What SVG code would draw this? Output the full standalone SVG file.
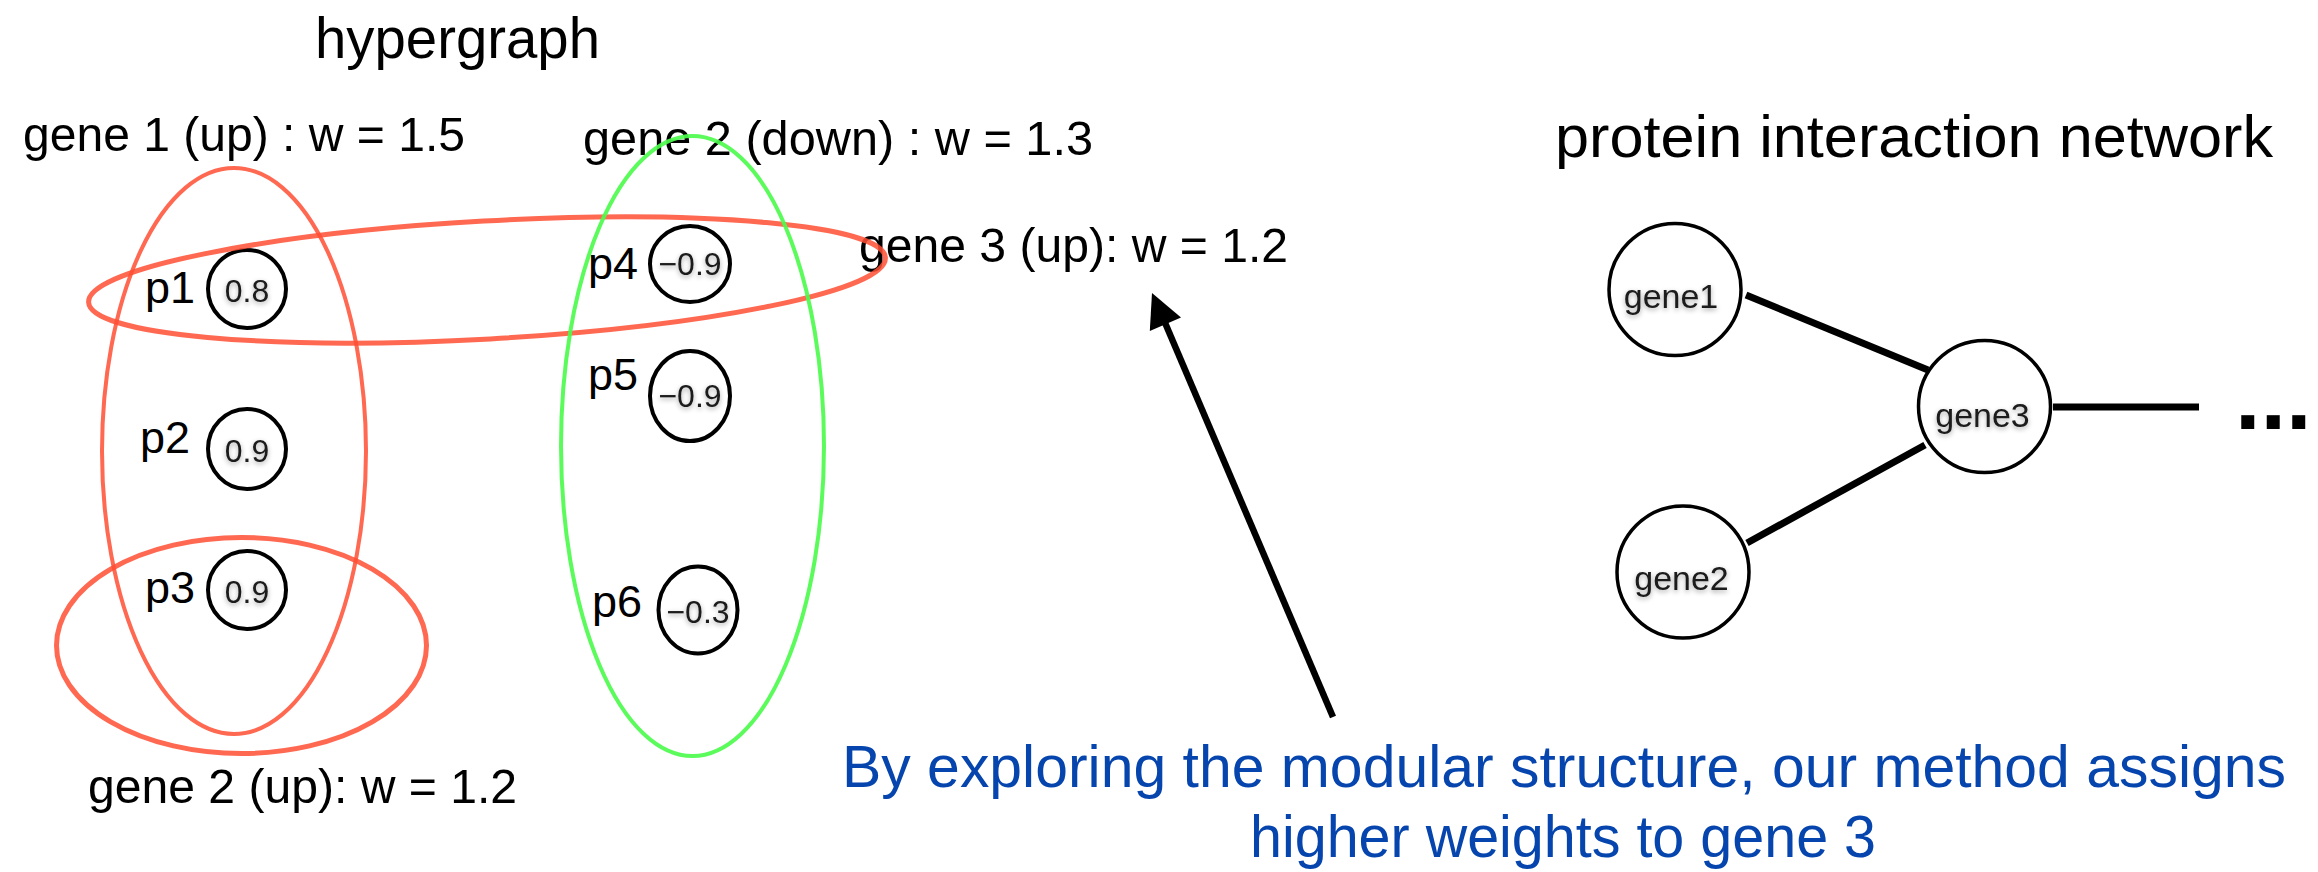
<svg xmlns="http://www.w3.org/2000/svg" width="2318" height="872" viewBox="0 0 2318 872">
<style>
  text { font-family: "Liberation Sans", Arial, sans-serif; fill: #000; }
  .title { font-size: 57px; }
  .lbl { font-size: 48px; }
  .p { font-size: 45px; }
  .val { font-size: 32px; text-anchor: middle; fill: #1a1a1a; filter: url(#sh); }
  .gn { font-size: 34px; text-anchor: middle; fill: #1a1a1a; filter: url(#sh); }
  .cap { font-size: 59px; text-anchor: middle; fill: #0645AD; }
  .pc { fill: #fff; stroke: #000; stroke-width: 4; }
  .nc { fill: #fff; stroke: #000; stroke-width: 3.5; }
  .red { fill: none; stroke: #FF4E33; stroke-opacity: 0.85; }
  .green { fill: none; stroke: #4DFB4D; stroke-opacity: 0.92; stroke-width: 4; }
  .edge { stroke: #000; stroke-width: 7; fill: none; }
</style>
<defs>
  <filter id="sh" x="-30%" y="-40%" width="160%" height="180%">
    <feGaussianBlur in="SourceAlpha" stdDeviation="2.5"/>
    <feOffset dy="2" result="b"/>
    <feFlood flood-color="#000" flood-opacity="0.35"/>
    <feComposite in2="b" operator="in"/>
    <feMerge><feMergeNode/><feMergeNode in="SourceGraphic"/></feMerge>
  </filter>
</defs>
<rect width="2318" height="872" fill="#fff"/>

<g id="title-hypergraph"><text class="title" x="315" y="58" textLength="285" lengthAdjust="spacingAndGlyphs">hypergraph</text></g>
<g id="title-network"><text class="title" x="1555" y="157" style="font-size:60px" textLength="718" lengthAdjust="spacingAndGlyphs">protein interaction network</text></g>

<!-- hyperedge labels -->
<g id="label-gene1-up"><text class="lbl" x="23" y="151" textLength="442" lengthAdjust="spacingAndGlyphs">gene 1 (up) : w = 1.5</text></g>
<g id="label-gene2-down"><text class="lbl" x="583" y="155" textLength="510" lengthAdjust="spacingAndGlyphs">gene 2 (down) : w = 1.3</text></g>
<g id="label-gene3-up"><text class="lbl" x="859" y="262" textLength="429" lengthAdjust="spacingAndGlyphs">gene 3 (up): w = 1.2</text></g>
<g id="label-gene2-up"><text class="lbl" x="88" y="803" textLength="429" lengthAdjust="spacingAndGlyphs">gene 2 (up): w = 1.2</text></g>

<!-- protein nodes -->
<g id="p1"><text class="p" x="145" y="303">p1</text><circle class="pc" cx="247" cy="289" r="39"/><text class="val" x="247" y="302">0.8</text></g>
<g id="p2"><text class="p" x="140" y="453">p2</text><ellipse class="pc" cx="247" cy="449" rx="39" ry="40"/><text class="val" x="247" y="462">0.9</text></g>
<g id="p3"><text class="p" x="145" y="603">p3</text><ellipse class="pc" cx="247" cy="590" rx="39" ry="39"/><text class="val" x="247" y="603">0.9</text></g>
<g id="p4"><text class="p" x="588" y="279">p4</text><ellipse class="pc" cx="690" cy="264" rx="40" ry="38"/><text class="val" x="690" y="275">−0.9</text></g>
<g id="p5"><text class="p" x="588" y="390">p5</text><ellipse class="pc" cx="690" cy="396" rx="40" ry="45"/><text class="val" x="690" y="407">−0.9</text></g>
<g id="p6"><text class="p" x="592" y="617">p6</text><ellipse class="pc" cx="698" cy="610" rx="39.5" ry="43.5"/><text class="val" x="698" y="623">−0.3</text></g>

<!-- hyperedges -->
<g id="hyperedge-gene1-up"><ellipse class="red" cx="234" cy="451" rx="132" ry="283" stroke-width="4"/></g>
<g id="hyperedge-gene3-up"><ellipse class="red" cx="487" cy="280" rx="399" ry="59" stroke-width="5" transform="rotate(-3.2 487 280)"/></g>
<g id="hyperedge-gene2-up"><ellipse class="red" cx="241.5" cy="645.5" rx="185" ry="108" stroke-width="5"/></g>
<g id="hyperedge-gene2-down"><ellipse class="green" cx="692.5" cy="446" rx="131.5" ry="310"/></g>

<!-- connectors -->
<g id="connectors">
  <line class="edge" x1="1746" y1="295" x2="1928" y2="370"/>
  <line class="edge" x1="1747" y1="543" x2="1925" y2="445"/>
  <line class="edge" x1="2053" y1="407" x2="2199" y2="407"/>
  <line x1="1333" y1="717" x2="1163" y2="318" stroke="#000" stroke-width="6.5"/>
  <polygon points="1152,293 1181,317.6 1149.8,331" fill="#000"/>
</g>

<!-- network nodes -->
<g id="gene1"><circle class="nc" cx="1675" cy="289.5" r="66"/><text class="gn" x="1671" y="308">gene1</text></g>
<g id="gene3"><circle class="nc" cx="1984.5" cy="406.5" r="66"/><text class="gn" x="1982.5" y="427">gene3</text></g>
<g id="gene2"><circle class="nc" cx="1683" cy="572" r="66"/><text class="gn" x="1681.5" y="590">gene2</text></g>
<g id="more"><text x="2235" y="429" style="font-size:92px;font-weight:bold">...</text></g>

<g id="caption">
  <text class="cap" x="1564" y="787" textLength="1444" lengthAdjust="spacingAndGlyphs">By exploring the modular structure, our method assigns</text>
  <text class="cap" x="1563" y="857" textLength="626" lengthAdjust="spacingAndGlyphs">higher weights to gene 3</text>
</g>
</svg>
